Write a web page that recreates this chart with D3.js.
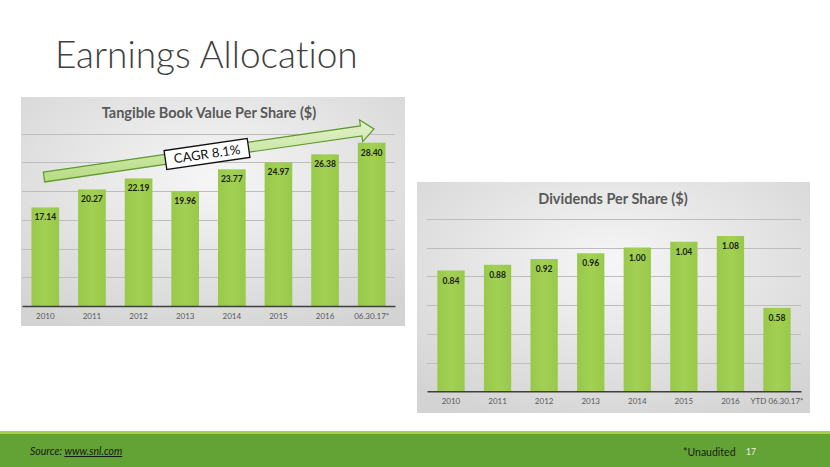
<!DOCTYPE html>
<html><head><meta charset="utf-8">
<script src="https://cdn.jsdelivr.net/npm/d3@7"></script>
<style>
html,body{margin:0;padding:0;background:#fff;}
svg{display:block;}
text{font-variant-ligatures:none;}
</style></head>
<body>
<script>
// ---- data ----
const tbvCategories = ["2010","2011","2012","2013","2014","2015","2016","06.30.17*"];
const tbvValues = [17.14, 20.27, 22.19, 19.96, 23.77, 24.97, 26.38, 28.40];
const tbvTicks = [5,10,15,20,25,30];
const divCategories = ["2010","2011","2012","2013","2014","2015","2016","YTD 06.30.17*"];
const divValues = [0.84, 0.88, 0.92, 0.96, 1.00, 1.04, 1.08, 0.58];
const divTicks = [0.2,0.4,0.6,0.8,1.0,1.2];
const tbvTitle = "Tangible Book Value Per Share ($)";
const divTitle = "Dividends Per Share ($)";
const cagrLabel = "CAGR 8.1%";

const W = 830, H = 467;
const svg = d3.select("body").append("svg").attr("width", W).attr("height", H);
const defs = svg.append("defs");

const pg = defs.append("radialGradient").attr("id","panelGrad")
  .attr("cx","50%").attr("cy","35%").attr("r","75%");
pg.append("stop").attr("offset","0%").attr("stop-color","#f6f6f6");
pg.append("stop").attr("offset","100%").attr("stop-color","#d3d3d3");

const bg = defs.append("linearGradient").attr("id","barGrad").attr("x1","0").attr("x2","1").attr("y1","0").attr("y2","0");
bg.append("stop").attr("offset","0%").attr("stop-color","#98c94a");
bg.append("stop").attr("offset","50%").attr("stop-color","#a2d052");
bg.append("stop").attr("offset","100%").attr("stop-color","#98c94a");

const ag = defs.append("linearGradient").attr("id","arrowGrad").attr("x1","0").attr("x2","0").attr("y1","0").attr("y2","1");
ag.append("stop").attr("offset","0%").attr("stop-color","#e3f2cc");
ag.append("stop").attr("offset","100%").attr("stop-color","#b7db82");

// Page title
svg.append("text").attr("x",55).attr("y",68)
  .attr("font-family","Lato, 'Open Sans', sans-serif").attr("font-weight",300)
  .attr("font-size",37).attr("fill","#404040").text("Earnings Allocation");

function drawChart(opt){
  const g = svg.append("g");
  g.append("rect").attr("x",opt.px).attr("y",opt.py).attr("width",opt.pw).attr("height",opt.ph)
    .attr("fill","url(#panelGrad)");
  const x = d3.scaleBand().domain(opt.cats).range([opt.x0,opt.x1])
    .paddingInner(opt.pi).paddingOuter(opt.po);
  const y = d3.scaleLinear().domain([0,opt.max]).range([opt.base,opt.top]);
  // gridlines
  g.append("g").selectAll("line").data(opt.ticks).join("line")
    .attr("x1",opt.x0).attr("x2",opt.x1)
    .attr("y1",d=>Math.round(y(d))+0.5).attr("y2",d=>Math.round(y(d))+0.5)
    .attr("stroke","#bdbdbd").attr("stroke-width",1);
  // bars
  g.append("g").selectAll("rect").data(opt.vals).join("rect")
    .attr("x",(d,i)=>x(opt.cats[i])).attr("width",x.bandwidth())
    .attr("y",d=>y(d)).attr("height",d=>opt.base-y(d))
    .attr("fill","url(#barGrad)");
  // value labels
  g.append("g").selectAll("text").data(opt.vals).join("text")
    .attr("x",(d,i)=>x(opt.cats[i])+x.bandwidth()/2)
    .attr("y",d=>y(d)+13)
    .attr("text-anchor","middle").attr("font-family","Lato, 'Open Sans', sans-serif")
    .attr("font-weight",700).attr("font-size",8.5).attr("fill","#1a1a1a")
    .text(d=>opt.fmt(d));
  // axis
  const ax = g.append("g").attr("transform",`translate(0,${opt.base})`)
    .call(d3.axisBottom(x).tickSize(0).tickPadding(7));
  ax.select(".domain").attr("stroke","#3f3f3f").attr("stroke-width",1.5);
  ax.selectAll("text").attr("font-family","Lato, 'Open Sans', sans-serif")
    .attr("font-size",8).attr("fill","#595959");
  // title
  g.append("text").attr("x",opt.tx).attr("y",opt.ty).attr("text-anchor","middle")
    .attr("font-family","Lato, 'Open Sans', sans-serif").attr("font-weight",700)
    .attr("font-size",14.5).attr("fill","#595959").text(opt.title);
  return {x,y};
}

const L = drawChart({px:21,py:97,pw:384,ph:229,x0:22,x1:395,pi:0.407,po:0.2035,
  base:306,top:104.75,max:35,ticks:tbvTicks,cats:tbvCategories,vals:tbvValues,
  fmt:d3.format(".2f"),title:tbvTitle,tx:209,ty:118});
const R = drawChart({px:417,py:182,pw:393,ph:231,x0:427,x1:801,pi:0.414,po:0.222,
  base:391.3,top:190,max:1.4,ticks:divTicks,cats:divCategories,vals:divValues,
  fmt:d3.format(".2f"),title:divTitle,tx:613,ty:204});

// CAGR arrow (annotation)
const T = [44,177], P = [374,129];
const dx = P[0]-T[0], dy = P[1]-T[1], len = Math.hypot(dx,dy);
const u = [dx/len, dy/len], n = [-u[1], u[0]];
const headLen = 13, sw = 5, hw = 11;
const Hc = [P[0]-u[0]*headLen, P[1]-u[1]*headLen];
const pt = (b,k)=>[b[0]+n[0]*k, b[1]+n[1]*k];
const arrowPts = [pt(T,-sw), pt(Hc,-sw), pt(Hc,-hw), P, pt(Hc,hw), pt(Hc,sw), pt(T,sw)];
svg.append("path").attr("d", d3.line()(arrowPts)+"Z")
  .attr("fill","url(#arrowGrad)").attr("stroke","#5f9a2f").attr("stroke-width",1.2);

const ang = Math.atan2(dy,dx)*180/Math.PI;
const cg = svg.append("g").attr("transform",`translate(207,154) rotate(${ang})`);
cg.append("rect").attr("x",-42).attr("y",-9.5).attr("width",84).attr("height",19)
  .attr("fill","#fff").attr("stroke","#111").attr("stroke-width",1.3);
cg.append("text").attr("x",0).attr("y",4.5).attr("text-anchor","middle")
  .attr("font-family","Lato, 'Open Sans', sans-serif").attr("font-size",13)
  .attr("fill","#111").text(cagrLabel);

// footer
svg.append("rect").attr("x",0).attr("y",431).attr("width",W).attr("height",36).attr("fill","#63a235");
svg.append("rect").attr("x",0).attr("y",431).attr("width",W).attr("height",3).attr("fill","#a6d04a");
const src = svg.append("text").attr("x",30).attr("y",455)
  .attr("font-family","Lato, 'Open Sans', sans-serif").attr("font-style","italic")
  .attr("font-size",10.5).attr("fill","#1a1a1a");
src.append("tspan").text("Source: ");
src.append("tspan").attr("text-decoration","underline").text("www.snl.com");
svg.append("text").attr("x",683).attr("y",456)
  .attr("font-family","Lato, 'Open Sans', sans-serif").attr("font-size",10.5)
  .attr("fill","#1a1a1a").text("*Unaudited");
svg.append("text").attr("x",746).attr("y",455)
  .attr("font-family","Lato, 'Open Sans', sans-serif").attr("font-size",8.5)
  .attr("fill","#f0f0f0").text("17");
</script>
</body></html>
